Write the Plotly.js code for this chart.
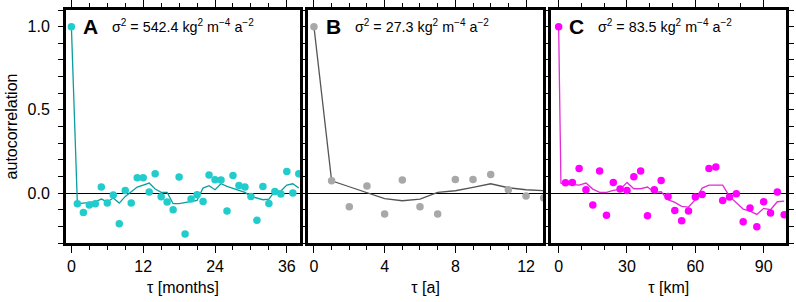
<!DOCTYPE html>
<html>
<head>
<meta charset="utf-8">
<script src="https://cdn.plot.ly/plotly-3.0.1.min.js"></script>
<style>html,body{margin:0;padding:0;background:#fff;}#chart{width:796px;height:302px;}</style>
</head>
<body>
<div id="chart"></div>
<script>
// Panel A: lag in months
const A_lag = [0,1,2,3,4,5,6,7,8,9,10,11,12,13,14,15,16,17,18,19,20,21,22,23,24,25,26,27,28,29,30,31,32,33,34,35,36,37,38];
const A_points = [1.0,-0.064,-0.116,-0.072,-0.064,0.036,-0.06,-0.012,-0.184,0.016,-0.06,0.092,0.092,0.006,0.116,-0.022,-0.054,-0.10,0.096,-0.246,-0.036,-0.01,-0.05,0.108,0.08,0.078,-0.108,0.106,0.046,0.036,-0.02,-0.164,0.04,-0.062,0.01,-0.006,0.13,0.0,0.116];
const A_line = [1.0,-0.064,-0.06,-0.056,-0.052,-0.036,-0.052,-0.03,-0.06,-0.02,0.006,0.036,0.048,0.06,0.024,0.004,0.004,-0.064,-0.064,-0.056,-0.052,-0.044,0.03,0.044,0.02,0.056,0.04,0.028,0.016,0.004,-0.02,-0.032,-0.04,-0.036,0.012,0.012,0.048,0.056,0.03];

// Panel B: lag in years
const B_lag = [0,1,2,3,4,5,6,7,8,9,10,11,12,13];
const B_points = [1.0,0.074,-0.082,0.042,-0.126,0.078,-0.082,-0.126,0.082,0.082,0.112,0.02,-0.018,-0.03];
const B_line = [1.0,0.074,0.038,0.0,-0.034,-0.046,-0.036,0.004,0.014,0.034,0.056,0.032,0.02,0.014];

// Panel C: lag in km
const C_lag = [0,3,6,9,12,15,18,21,24,27,30,33,36,39,42,45,48,51,54,57,60,63,66,69,72,75,78,81,84,87,90,93,96,99];
const C_points = [1.0,0.062,0.064,0.148,0.02,-0.072,0.132,-0.134,0.064,0.024,0.016,0.098,0.132,-0.136,0.02,0.076,-0.02,-0.104,-0.166,-0.108,-0.024,-0.008,0.148,0.156,-0.044,-0.024,-0.004,-0.172,-0.09,-0.202,-0.052,-0.12,0.006,-0.13];
const C_line_lag = [0,1,3,6,9,12,15,18,21,24,27,30,33,36,39,42,45,48,51,54,57,60,63,66,69,72,75,78,81,84,87,90,93,96,99];
const C_line = [1.0,0.06,0.056,0.052,0.048,0.06,0.024,0.004,0.004,0.016,0.022,0.064,0.026,0.026,0.036,0.004,0.008,-0.04,-0.056,-0.08,-0.084,-0.04,0.03,0.048,0.048,0.048,-0.02,-0.056,-0.096,-0.108,-0.128,-0.092,-0.1,-0.052,-0.048];

const panelLabels = ['A','B','C'];
const varianceLabels = ['σ<sup>2</sup> = 542.4 kg<sup>2</sup> m<sup>−4</sup> a<sup>−2</sup>',
                        'σ<sup>2</sup> = 27.3 kg<sup>2</sup> m<sup>−4</sup> a<sup>−2</sup>',
                        'σ<sup>2</sup> = 83.5 kg<sup>2</sup> m<sup>−4</sup> a<sup>−2</sup>'];
const xTitles = ['τ [months]','τ [a]','τ [km]'];
const yTitle = 'autocorrelation';

const FONT = 'Liberation Sans, Arial, Helvetica, sans-serif';
const colA = {m:'#22cccc', l:'#0a9e9e'};
const colB = {m:'#a8a8a8', l:'#555555'};
const colC = {m:'#ff00ff', l:'#e32bd6'};

const traces = [
  {x:A_lag, y:A_line, xaxis:'x', yaxis:'y', mode:'lines', line:{color:colA.l, width:1.3}},
  {x:A_lag, y:A_points, xaxis:'x', yaxis:'y', mode:'markers', marker:{color:colA.m, size:7.5}},
  {x:B_lag, y:B_line, xaxis:'x2', yaxis:'y2', mode:'lines', line:{color:colB.l, width:1.3}},
  {x:B_lag, y:B_points, xaxis:'x2', yaxis:'y2', mode:'markers', marker:{color:colB.m, size:7.5}},
  {x:C_line_lag, y:C_line, xaxis:'x3', yaxis:'y3', mode:'lines', line:{color:colC.l, width:1.3}},
  {x:C_lag, y:C_points, xaxis:'x3', yaxis:'y3', mode:'markers', marker:{color:colC.m, size:7.5}}
];

function xax(domain, range, dtick, minorD, title, anchor){
  return {domain:domain, range:range, anchor:anchor, tick0:0, dtick:dtick,
    ticks:'outside', ticklen:7, tickwidth:1, tickcolor:'#000',
    minor:{dtick:minorD, tick0:0, ticks:'outside', ticklen:4, tickwidth:1, tickcolor:'#000', showgrid:false},
    showline:true, linewidth:3, linecolor:'#000', mirror:'allticks',
    showgrid:false, zeroline:false,
    tickfont:{family:FONT, size:16, color:'#000'},
    title:{text:title, font:{family:FONT, size:16, color:'#000'}, standoff:8}};
}
function yax(anchor, labels){
  return {domain:[0,1], range:[-0.3,1.1], anchor:anchor, tick0:0, dtick:0.5, tickformat:'.1f',
    ticks:'outside', ticklen:5, tickwidth:1, tickcolor:'#000',
    minor:{dtick:0.1, tick0:0, ticks:'outside', ticklen:5, tickwidth:1, tickcolor:'#000', showgrid:false},
    showline:true, linewidth:3, linecolor:'#000', mirror:'allticks',
    showgrid:false, zeroline:true, zerolinecolor:'#000', zerolinewidth:1,
    showticklabels:labels, ticklabelstandoff:5,
    tickfont:{family:FONT, size:16, color:'#000'},
    title: labels ? {text:yTitle, font:{family:FONT, size:16, color:'#000'}, standoff:6} : {text:''}};
}

const annotations = [];
const xrefs = ['x','x2','x3'];
const yrefs = ['y','y2','y3'];
for (let i=0;i<3;i++){
  annotations.push({xref:xrefs[i]+' domain', yref:yrefs[i]+' domain', x:0.066, y:1, xanchor:'left', yanchor:'top', yshift:-3,
    text:panelLabels[i], showarrow:false, font:{family:FONT, size:21, weight:'bold', color:'#000'}});
  annotations.push({xref:xrefs[i]+' domain', yref:yrefs[i]+' domain', x:0.19, y:1, xanchor:'left', yanchor:'top', yshift:-5,
    text:varianceLabels[i], showarrow:false, font:{family:FONT, size:14.3, color:'#000'}});
}

const layout = {
  width:796, height:302, showlegend:false,
  margin:{l:66, r:10, t:10, b:59},
  paper_bgcolor:'#fff', plot_bgcolor:'#fff',
  font:{family:FONT, color:'#000'},
  xaxis: xax([0,0.325], [-0.9,38.2], 12, 3, xTitles[0], 'y'),
  xaxis2: xax([0.3365,0.6625], [-0.32,12.96], 4, 1, xTitles[1], 'y2'),
  xaxis3: xax([0.6741,1], [-3.2,99.8], 30, 10, xTitles[2], 'y3'),
  yaxis: yax('x', true),
  yaxis2: yax('x2', false),
  yaxis3: yax('x3', false),
  annotations: annotations
};

Plotly.newPlot('chart', traces, layout, {displayModeBar:false, staticPlot:true});
</script>
</body>
</html>
